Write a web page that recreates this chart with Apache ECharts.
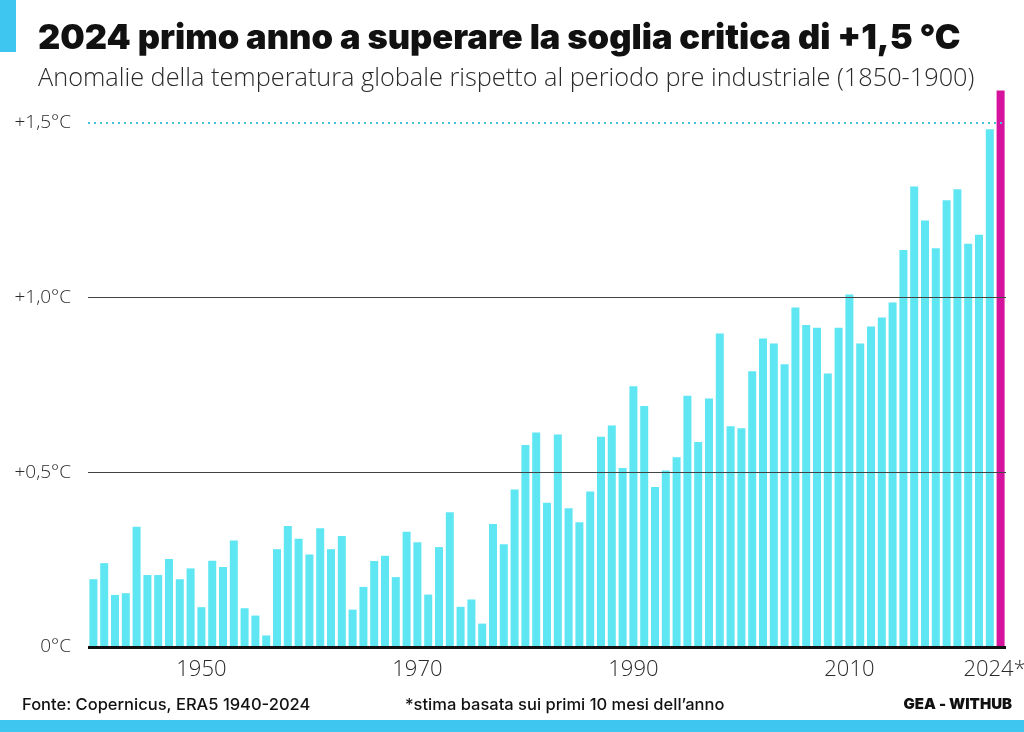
<!DOCTYPE html>
<html>
<head>
<meta charset="utf-8">
<script src="https://cdn.jsdelivr.net/npm/echarts@6/dist/echarts.min.js"></script>
<style>
html,body{margin:0;padding:0;background:#fff;}
#chart{width:1024px;height:732px;}
</style>
</head>
<body>
<div id="chart"></div>
<script>
const years = [
 '1940','1941','1942','1943','1944','1945','1946','1947','1948','1949',
 '1950','1951','1952','1953','1954','1955','1956','1957','1958','1959',
 '1960','1961','1962','1963','1964','1965','1966','1967','1968','1969',
 '1970','1971','1972','1973','1974','1975','1976','1977','1978','1979',
 '1980','1981','1982','1983','1984','1985','1986','1987','1988','1989',
 '1990','1991','1992','1993','1994','1995','1996','1997','1998','1999',
 '2000','2001','2002','2003','2004','2005','2006','2007','2008','2009',
 '2010','2011','2012','2013','2014','2015','2016','2017','2018','2019',
 '2020','2021','2022','2023','2024'
];
const anomalies = [
 0.194,0.240,0.149,0.154,0.344,0.206,0.206,0.252,0.194,0.225,
 0.114,0.247,0.229,0.305,0.111,0.090,0.033,0.280,0.346,0.310,
 0.265,0.340,0.280,0.318,0.107,0.172,0.246,0.261,0.200,0.330,
 0.300,0.150,0.286,0.386,0.115,0.136,0.067,0.352,0.294,0.451,
 0.578,0.614,0.413,0.608,0.397,0.357,0.445,0.602,0.634,0.512,
 0.746,0.690,0.458,0.505,0.543,0.719,0.587,0.711,0.897,0.632,
 0.626,0.789,0.883,0.869,0.809,0.972,0.922,0.914,0.783,0.914,
 1.009,0.869,0.917,0.943,0.986,1.136,1.318,1.221,1.141,1.279,
 1.310,1.154,1.180,1.482,1.593
];
const highlightYear = '2024';
const xTickLabels = {'1950':'1950','1970':'1970','1990':'1990','2010':'2010','2024':'2024*'};
const yTickLabels = {'0':'0°C','0.5':'+0,5°C','1':'+1,0°C','1.5':'+1,5°C'};
const threshold = 1.5;
const gridLevels = [0.5, 1.0];

const CYAN = '#5fe6f3';
const MAGENTA = '#d5139c';
const BLUE = '#3ec6f1';

const chart = echarts.init(document.getElementById('chart'), null, {renderer:'canvas'});
const seriesData = years.map((y, i) => ({
  value: anomalies[i],
  itemStyle: {color: y === highlightYear ? MAGENTA : CYAN}
}));

const xLabelStyle = {
  fontFamily: '"Open Sans", Lato, sans-serif',
  fontSize: 22,
  fontWeight: 300,
  color: '#2a2a2a'
};

chart.setOption({
  animation: false,
  backgroundColor: '#ffffff',
  grid: {left: 88, right: 18, top: 88, bottom: 85, containLabel: false, outerBoundsMode: 'none'},
  xAxis: {
    type: 'category',
    data: years,
    boundaryGap: true,
    axisLine: {show: false},
    axisTick: {show: false},
    axisLabel: Object.assign({
      interval: 0,
      margin: 12,
      formatter: v => {
        const t = xTickLabels[v];
        if (!t) return '';
        return v === highlightYear ? '{last|' + t + '}' : t;
      },
      rich: {last: Object.assign({padding: [0, 12, 0, 0]}, xLabelStyle)}
    }, xLabelStyle)
  },
  yAxis: {
    type: 'value',
    min: 0, max: 1.6, interval: 0.5,
    axisLine: {show: false},
    axisTick: {show: false},
    splitLine: {show: false},
    axisLabel: {
      margin: 17,
      fontFamily: '"Open Sans", Lato, sans-serif',
      fontSize: 19,
      fontWeight: 300,
      color: '#2a2a2a',
      formatter: v => yTickLabels[String(Math.round(v*10)/10)] || ''
    }
  },
  series: [{
    type: 'bar',
    data: seriesData,
    barWidth: 8,
    z: 2,
    markLine: {
      silent: true,
      symbol: 'none',
      label: {show: false},
      data: [
        {yAxis: gridLevels[0], lineStyle: {color: '#444', width: 1, type: 'solid'}},
        {yAxis: gridLevels[1], lineStyle: {color: '#444', width: 1, type: 'solid'}},
        {yAxis: threshold, lineStyle: {color: '#4cbfd8', width: 2, type: [2, 4]}},
        {yAxis: 0, lineStyle: {color: '#111', width: 3, type: 'solid'}}
      ]
    }
  }],
  graphic: [
    {type: 'rect', left: 0, top: 0, shape: {width: 16, height: 52}, style: {fill: BLUE}},
    {type: 'rect', left: 0, top: 720, shape: {width: 1024, height: 12}, style: {fill: BLUE}},
    {type: 'text', left: 38, top: 21, style: {text: '2024 primo anno a superare la soglia critica di +1,5 °C',
      font: '900 34.5px Inter, Lato, sans-serif', fill: '#111'}},
    {type: 'text', left: 38, top: 66, style: {text: 'Anomalie della temperatura globale rispetto al periodo pre industriale (1850-1900)',
      font: '300 25.3px "Open Sans", Lato, sans-serif', fill: '#2a2a2a'}},
    {type: 'text', left: 22, top: 697, style: {text: 'Fonte: Copernicus, ERA5 1940-2024',
      font: '500 16.5px Inter, Lato, sans-serif', fill: '#111'}},
    {type: 'text', left: 405, top: 697, style: {text: '*stima basata sui primi 10 mesi dell’anno',
      font: '500 16.5px Inter, Lato, sans-serif', fill: '#111'}},
    {type: 'text', right: 12, top: 697, style: {text: 'GEA - WITHUB',
      font: '900 15px Inter, Lato, sans-serif', fill: '#111'}}
  ]
});
</script>
</body>
</html>
